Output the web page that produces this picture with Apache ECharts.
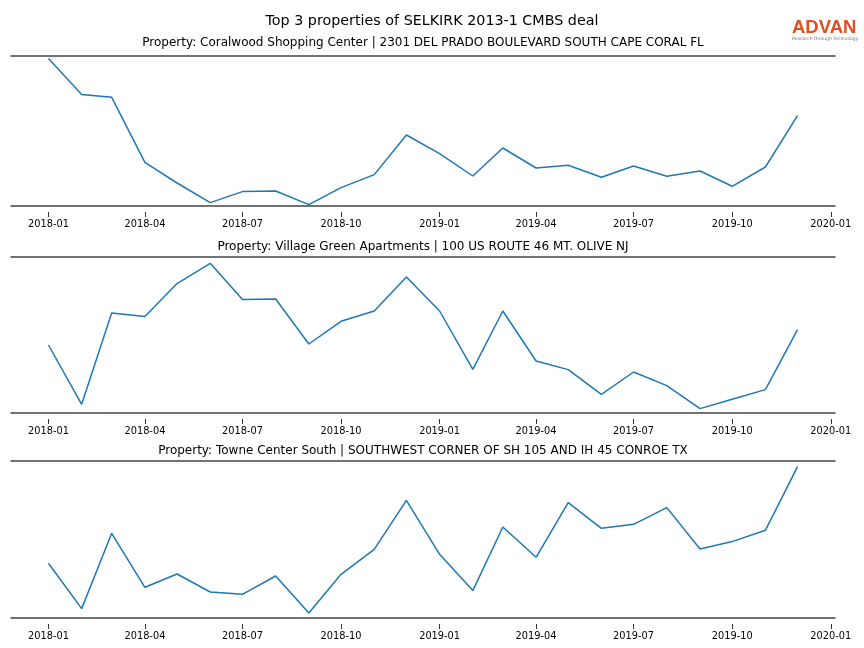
<!DOCTYPE html>
<html>
<head>
<meta charset="utf-8">
<script src="https://cdn.jsdelivr.net/npm/echarts@6/dist/echarts.min.js"></script>
<style>html,body{margin:0;padding:0;background:#fff}#c{width:864px;height:648px}</style>
</head>
<body>
<div id="c"></div>
<script>
const months = ['2018-01','2018-02','2018-03','2018-04','2018-05','2018-06','2018-07','2018-08','2018-09','2018-10','2018-11','2018-12',
                '2019-01','2019-02','2019-03','2019-04','2019-05','2019-06','2019-07','2019-08','2019-09','2019-10','2019-11','2019-12'];
const coralwood = [147.4,111.4,108.7,43.7,23,3.4,14.4,15,1.4,18.4,31.4,71,
                   52.4,30,58,38,40.7,28.7,40,29.7,35,19.7,39,90.4];
const villageGreen = [68,8.7,100,96.4,129.4,149.7,113.4,114,69,91.7,102,136,
                      102,43.7,102,52,43.4,18.7,41,27.4,4.4,13.7,23.4,83.4];
const towneCenter = [54.7,9.4,84.7,30.7,44,26,23.7,42,5,43.7,68.7,117.7,
                     63.7,27.4,91,60.7,115.4,89.7,93.7,110.4,69,76.4,87.7,151.4];
const tickLabels = ['2018-01','2018-04','2018-07','2018-10','2019-01','2019-04','2019-07','2019-10','2020-01'];
const mainTitle = 'Top 3 properties of SELKIRK 2013-1 CMBS deal';
const panelTitles = [
  'Property: Coralwood Shopping Center | 2301 DEL PRADO BOULEVARD SOUTH CAPE CORAL FL',
  'Property: Village Green Apartments | 100 US ROUTE 46 MT. OLIVE NJ',
  'Property: Towne Center South | SOUTHWEST CORNER OF SH 105 AND IH 45 CONROE TX'
];
const yMax = [150, 156, 157];

function ts(s){ const p = s.split('-'); return Date.UTC(+p[0], +p[1]-1, 1); }
const xs = months.map(ts);
const tickVals = tickLabels.map(ts);
const pad = (xs[xs.length-1] - xs[0]) * 0.05;
const xMin = xs[0] - pad, xMax = xs[xs.length-1] + pad;
const seriesData = [coralwood, villageGreen, towneCenter];

const grids = [
  {left: 11, right: 29, top: 56, height: 150},
  {left: 11, right: 29, top: 257, height: 156},
  {left: 11, right: 29, top: 461, height: 157}
];
const titleY = [32, 236, 440];
const spineColor = '#444';
const font = 'DejaVu Sans';

const xAxes = [], yAxes = [], series = [], titles = [];
titles.push({text: mainTitle, left: 'center', top: 9, textStyle: {fontFamily: font, fontSize: 14.3, fontWeight: 'normal', color: '#000'}});
grids.forEach((g, i) => {
  xAxes.push({gridIndex: i, type: 'value', min: xMin, max: xMax, position: 'bottom',
    axisLine: {show: true, onZero: false, lineStyle: {color: spineColor, width: 1.5}},
    axisTick: {show: false}, axisLabel: {show: false}, splitLine: {show: false}});
  xAxes.push({gridIndex: i, type: 'value', min: xMin, max: xMax, position: 'bottom', offset: 6,
    axisLine: {show: false, onZero: false},
    axisTick: {show: true, length: 5, customValues: tickVals, lineStyle: {color: '#333', width: 1}},
    axisLabel: {show: true, customValues: tickVals, margin: 7.5, fontSize: 9.8, fontFamily: font, color: '#000',
      formatter: v => { const k = tickVals.indexOf(v); return k >= 0 ? tickLabels[k] : ''; }},
    splitLine: {show: false}});
  xAxes.push({gridIndex: i, type: 'value', min: xMin, max: xMax, position: 'top',
    axisLine: {show: true, onZero: false, lineStyle: {color: spineColor, width: 1.5}},
    axisTick: {show: false}, axisLabel: {show: false}, splitLine: {show: false}});
  yAxes.push({gridIndex: i, type: 'value', min: 0, max: yMax[i], show: false, splitLine: {show: false}});
  series.push({type: 'line', xAxisIndex: 3*i, yAxisIndex: i, showSymbol: false, symbol: 'none',
    data: xs.map((x, k) => [x, seriesData[i][k]]),
    lineStyle: {color: '#1f77b4', width: 1.5}, itemStyle: {color: '#1f77b4'}});
  titles.push({text: panelTitles[i], left: 418, textAlign: 'center', top: titleY[i],
    textStyle: {fontFamily: font, fontSize: 12, fontWeight: 'normal', color: '#000'}});
});

const chart = echarts.init(document.getElementById('c'), null, {renderer: 'canvas'});
chart.setOption({
  animation: false,
  backgroundColor: '#fff',
  title: titles,
  grid: grids,
  xAxis: xAxes,
  yAxis: yAxes,
  series: series,
  graphic: [
    {type: 'text', left: 792, top: 18, style: {text: 'ADVAN', fontFamily: 'Liberation Sans', fontWeight: 'bold', fontSize: 18.5, fill: '#e24f1f'}},
    {type: 'text', left: 792, top: 36, style: {text: 'Research through Technology', fontFamily: font, fontSize: 4.5, fill: '#777'}}
  ]
});
</script>
</body>
</html>
